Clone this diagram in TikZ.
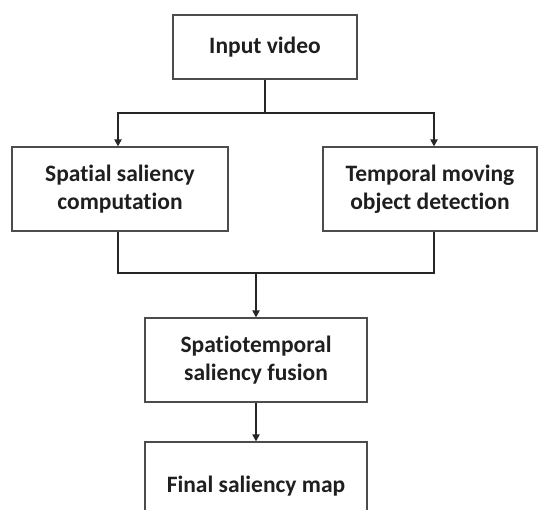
\documentclass[tikz,border=0pt]{standalone}
\usepackage{fontspec}
\setmainfont[Ligatures=NoCommon]{Carlito}
\usetikzlibrary{arrows.meta}
\begin{document}
\begin{tikzpicture}[x=1pt,y=-1pt,
  box/.style={draw=black!70,line width=1.1pt,fill=white,inner sep=0pt,
    font=\fontsize{23.5}{28}\selectfont\bfseries,text=black!88,align=center},
  conn/.style={draw=black!85,line width=1.8pt},
  arr/.style={conn,-{Triangle[length=7pt,width=7pt]}}]
\useasboundingbox (0,0) rectangle (538,509);
\clip (0,0) rectangle (538,509);
\node[box,minimum width=184pt,minimum height=64pt] (in) at (265,47) {Input video};
\node[box,minimum width=216pt,minimum height=84pt] (sp) at (120,189) {Spatial saliency\\computation};
\node[box,minimum width=214pt,minimum height=84pt] (tm) at (430,189) {Temporal moving\\object detection};
\node[box,minimum width=222pt,minimum height=84pt] (fu) at (256,360) {Spatiotemporal\\saliency fusion};
\node[box,minimum width=222pt,minimum height=96pt,text depth=12pt] (fi) at (256,490) {Final saliency map};
\coordinate (j1) at (265,113);
\coordinate (j2) at (256,273);
\draw[conn] (in.south) -- (j1);
\draw[arr] (j1) -| (sp.north -| 118,0);
\draw[arr] (j1) -| (tm.north -| 434,0);
\draw[conn] (sp.south -| 118,0) |- (j2);
\draw[conn] (tm.south -| 434,0) |- (j2);
\draw[arr] (j2) -- (fu.north);
\draw[arr] (fu.south) -- (fi.north);
\end{tikzpicture}
\end{document}
